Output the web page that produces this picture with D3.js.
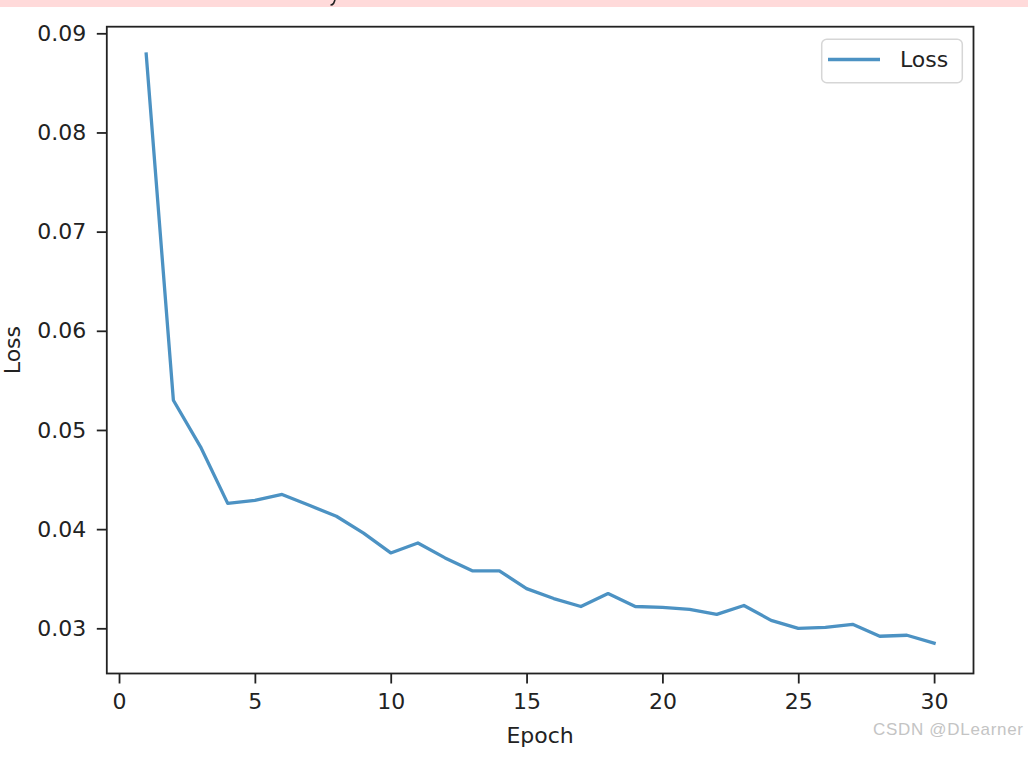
<!DOCTYPE html>
<html>
<head>
<meta charset="utf-8">
<script src="https://cdn.jsdelivr.net/npm/d3@7"></script>
<style>
  html, body { margin: 0; padding: 0; background: #fff; }
  svg { display: block; }
</style>
</head>
<body>
<script>
// ---- data ----
const epochs = [1,2,3,4,5,6,7,8,9,10,11,12,13,14,15,16,17,18,19,20,21,22,23,24,25,26,27,28,29,30];
const lossValues = [0.0879,0.0530,0.0483,0.0426,0.0429,0.0435,0.0424,0.0413,0.0396,0.0376,
                    0.0386,0.0371,0.0358,0.0358,0.0340,0.0330,0.0322,0.0335,0.0322,0.0321,
                    0.0319,0.0314,0.0323,0.0308,0.0300,0.0301,0.0304,0.0292,0.0293,0.0285];
const xTicks = [0,5,10,15,20,25,30];
const yTicks = [0.03,0.04,0.05,0.06,0.07,0.08,0.09];
const seriesName = "Loss";
const xLabel = "Epoch";
const yLabel = "Loss";

const W = 1028, H = 757;
const svg = d3.select("body").append("svg").attr("width", W).attr("height", H);

// top pink band (cropped banner) with the tail of a cut-off glyph
svg.append("rect").attr("x",0).attr("y",0).attr("width",W).attr("height",7).attr("fill","#ffdada");
svg.append("path").attr("d","M335,0 L333.5,3.5 Q332.5,5 330.5,5").attr("fill","none")
  .attr("stroke","#222").attr("stroke-width",1.6);

const pLeft = 106.8, pRight = 973.5, pTop = 26.7, pBottom = 673.5;
const x = d3.scaleLinear().domain([-0.45, 31.45]).range([pLeft, pRight]);
const y = d3.scaleLinear().domain([0.025442, 0.090666]).range([pBottom, pTop]);

const font = "DejaVu Sans";
const textColor = "#222";

// axes
const gx = svg.append("g").attr("transform", `translate(0,${pBottom})`)
  .call(d3.axisBottom(x).tickValues(xTicks).tickFormat(d3.format("d")).tickSize(10).tickPadding(9.5));
const gy = svg.append("g").attr("transform", `translate(${pLeft},0)`)
  .call(d3.axisLeft(y).tickValues(yTicks).tickFormat(d3.format(".2f")).tickSize(10).tickPadding(10.5));
[gx, gy].forEach(g => {
  g.select(".domain").remove();
  g.selectAll(".tick line").attr("stroke", "#222").attr("stroke-width", 1.8);
  g.selectAll(".tick text").attr("font-family", font).attr("font-size", 22).attr("fill", textColor);
});

// line
const line = d3.line().x((d,i) => x(epochs[i])).y(d => y(d));
svg.append("path").datum(lossValues)
  .attr("d", line).attr("fill","none")
  .attr("stroke","#4c92c3").attr("stroke-width",3.3)
  .attr("stroke-linejoin","round").attr("stroke-linecap","square");

// frame
svg.append("rect").attr("x",pLeft).attr("y",pTop).attr("width",pRight-pLeft).attr("height",pBottom-pTop)
  .attr("fill","none").attr("stroke","#222").attr("stroke-width",1.8);

// axis labels
svg.append("text").attr("x",(pLeft+pRight)/2).attr("y",743).attr("text-anchor","middle")
  .attr("font-family",font).attr("font-size",22).attr("fill",textColor).text(xLabel);
svg.append("text").attr("transform",`translate(20,${(pTop+pBottom)/2}) rotate(-90)`).attr("text-anchor","middle")
  .attr("font-family",font).attr("font-size",22).attr("fill",textColor).text(yLabel);

// legend
const lg = svg.append("g");
lg.append("rect").attr("x",821.7).attr("y",39.3).attr("width",140.6).attr("height",43.4)
  .attr("rx",5).attr("fill","#fff").attr("fill-opacity",0.8).attr("stroke","#d6d6d6").attr("stroke-width",1.5);
lg.append("line").attr("x1",828).attr("x2",880).attr("y1",59.5).attr("y2",59.5)
  .attr("stroke","#4c92c3").attr("stroke-width",3.3);
lg.append("text").attr("x",900).attr("y",67).attr("font-family",font).attr("font-size",22)
  .attr("fill",textColor).text(seriesName);

// watermark
svg.append("text").attr("x",873).attr("y",735).attr("font-family","Liberation Sans").attr("font-size",17)
  .attr("textLength",150).attr("fill","#c4c4c4").text("CSDN @DLearner");
</script>
</body>
</html>
